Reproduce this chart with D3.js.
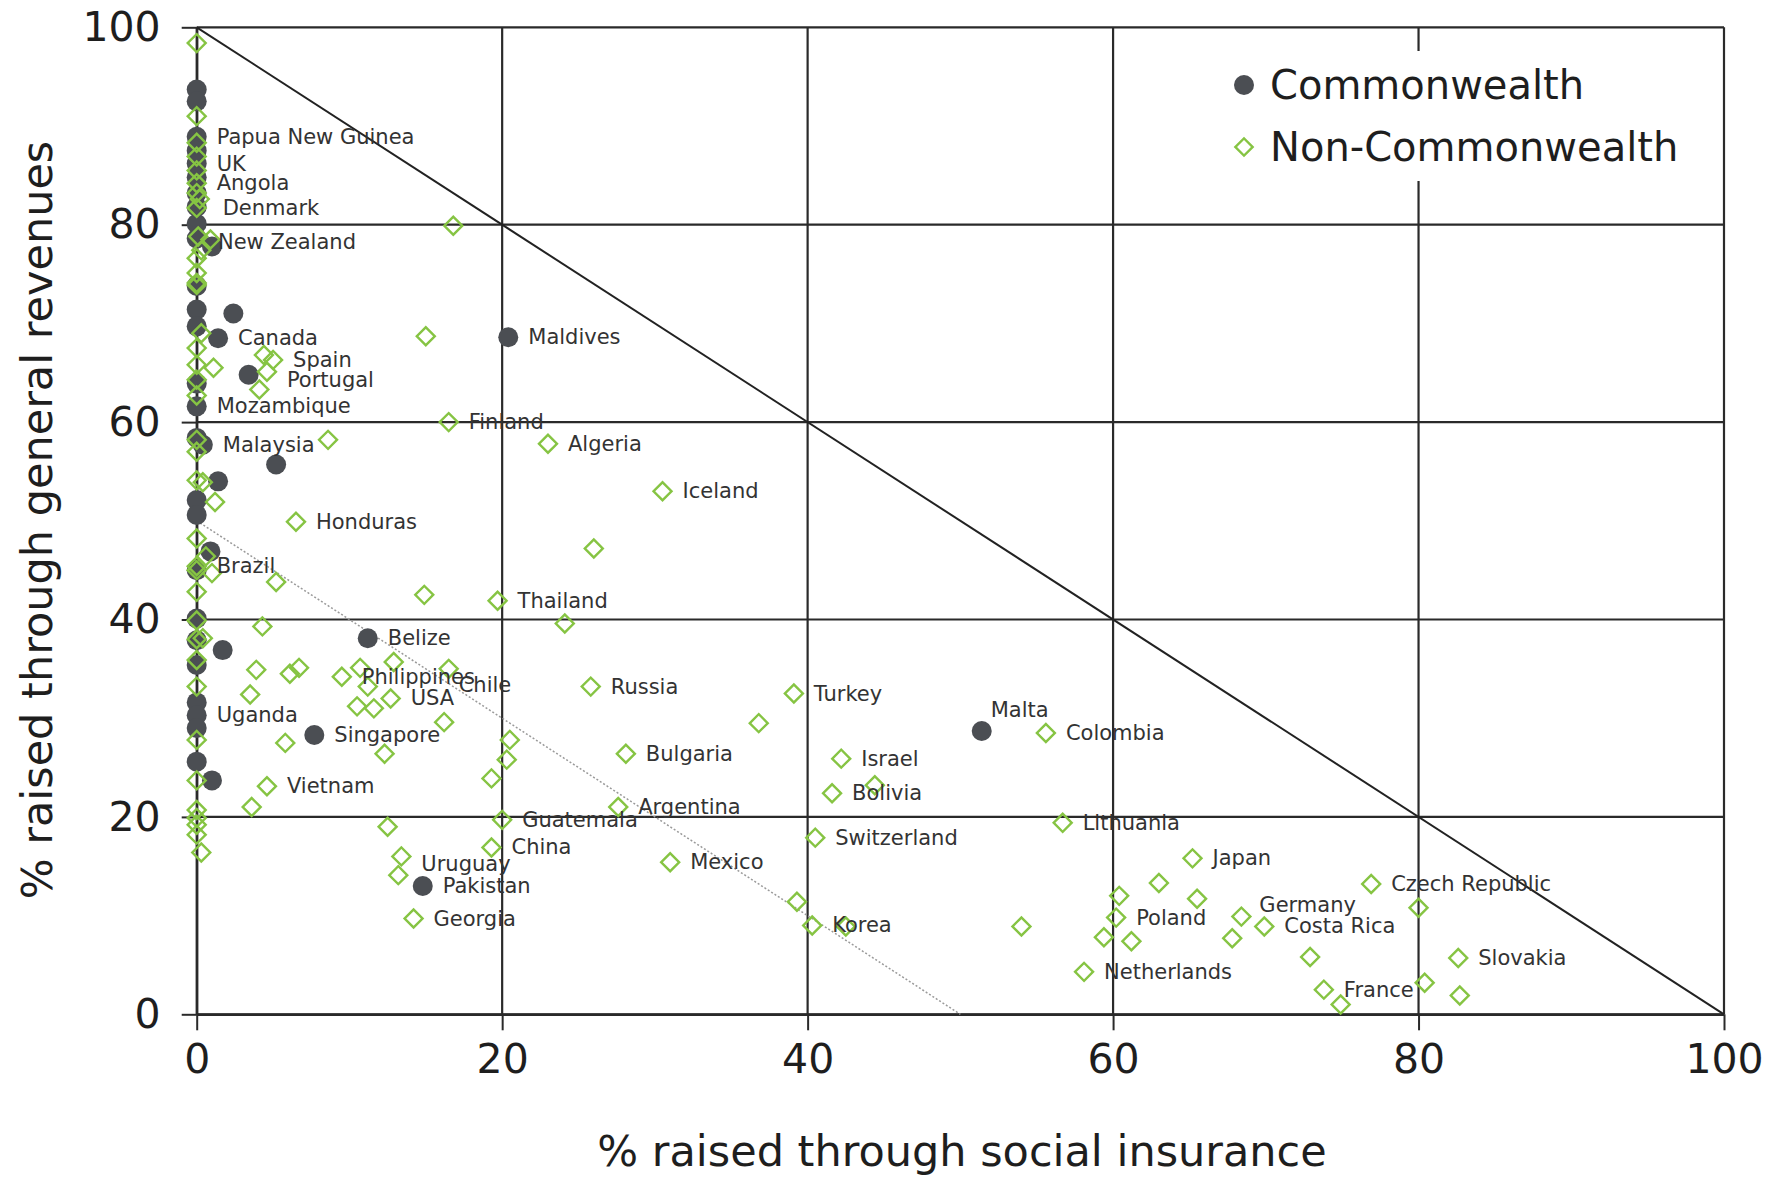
<!DOCTYPE html>
<html>
<head>
<meta charset="utf-8">
<script src="https://cdn.jsdelivr.net/npm/d3@7"></script>
<style>
  body { margin: 0; background: #fff; }
  svg { display: block; }
  text { font-family: "DejaVu Sans", Verdana, sans-serif; }
</style>
</head>
<body>
<svg id="chart" width="1773" height="1178"></svg>
<script>
// Axis ticks and titles
const xTicks = [0, 20, 40, 60, 80, 100];
const yTicks = [0, 20, 40, 60, 80, 100];
const xTitle = "% raised through social insurance";
const yTitle = "% raised through general revenues";
const seriesNames = ["Commonwealth", "Non-Commonwealth"];

// [country, % social insurance, % general revenues]
const commonwealth = [
  ["", 0, 93.7], ["", 0, 92.5], ["Papua New Guinea", 0, 88.9], ["", 0, 87.5],
  ["UK", 0, 86.2], ["", 0, 84.8], ["", 0, 83.2], ["", 0, 81.8], ["", 0, 80.1],
  ["", 0, 78.6], ["", 0, 73.8], ["", 0, 71.4], ["", 0, 69.7], ["", 0, 63.9],
  ["Mozambique", 0, 61.6], ["", 0, 58.4], ["", 0, 52.1], ["", 0, 50.6],
  ["", 0, 45.0], ["", 0, 40.1], ["", 0, 37.9], ["", 0, 35.4], ["", 0, 31.6],
  ["Uganda", 0, 30.3], ["", 0, 29.0], ["", 0, 25.6],
  ["New Zealand", 1.0, 77.8], ["", 2.4, 71.0], ["Canada", 1.4, 68.5],
  ["", 3.4, 64.8], ["Maldives", 20.4, 68.6], ["Malaysia", 0.4, 57.7],
  ["", 5.2, 55.7], ["", 1.4, 54.0], ["", 0.9, 46.9], ["Belize", 11.2, 38.1],
  ["", 1.7, 36.9], ["Singapore", 7.7, 28.3], ["", 1.0, 23.7],
  ["Pakistan", 14.8, 13.0], ["Malta", 51.4, 28.7]
];

const nonCommonwealth = [
  ["", 0, 98.4], ["", 0, 91.0], ["", 0, 88.3], ["", 0, 86.9], ["", 0, 85.5],
  ["Angola", 0, 84.2], ["", 0, 83.2], ["", 0.2, 82.6], ["Denmark", 0, 81.7],
  ["", 0.1, 78.8], ["", 0.9, 78.5], ["", 0.3, 77.4], ["", 0, 76.6], ["", 0, 75.1],
  ["", 0, 74.1], ["", 0, 73.9], ["", 0.3, 69.0], ["", 0, 67.5], ["", 0, 65.8],
  ["", 1.1, 65.5], ["", 0, 64.3], ["", 0, 62.7], ["", 0, 58.2], ["", 0, 57.0],
  ["", 0, 54.1], ["", 0.4, 53.9], ["", 1.2, 51.9], ["", 0, 48.2], ["", 0.6, 46.4],
  ["Brazil", 0, 45.4], ["", 0, 45.0], ["", 1.0, 44.7], ["", 0, 42.8], ["", 0, 39.9],
  ["", 0.4, 38.1], ["", 0, 38.0], ["", 0, 35.9], ["", 0, 33.2], ["", 0, 27.8],
  ["", 0, 23.7], ["", 0, 20.7], ["", 0, 19.9], ["", 0, 19.2], ["", 0, 18.2],
  ["", 0.3, 16.4],
  ["", 16.8, 79.9], ["", 15.0, 68.7], ["", 4.4, 66.8], ["Spain", 5.0, 66.3],
  ["Portugal", 4.6, 65.1], ["", 4.1, 63.3], ["Finland", 16.5, 60.0], ["", 8.6, 58.2],
  ["Algeria", 23.0, 57.8], ["Iceland", 30.5, 53.0], ["Honduras", 6.5, 49.9],
  ["", 26.0, 47.2], ["", 5.2, 43.8], ["", 14.9, 42.5], ["Thailand", 19.7, 41.9],
  ["", 24.1, 39.6], ["", 4.3, 39.3], ["", 3.9, 34.9], ["", 6.1, 34.5], ["", 6.7, 35.1],
  ["", 3.5, 32.4], ["Philippines", 9.5, 34.2], ["", 10.7, 35.1], ["", 11.2, 33.2],
  ["", 12.9, 35.7], ["", 10.5, 31.2], ["", 11.6, 31.0], ["USA", 12.7, 32.0],
  ["Chile", 16.5, 35.0], ["", 16.2, 29.6], ["", 5.8, 27.5], ["", 12.3, 26.4],
  ["Vietnam", 4.6, 23.1], ["", 3.6, 21.0], ["", 12.5, 19.0], ["Uruguay", 13.4, 16.0],
  ["", 13.2, 14.1], ["Georgia", 14.2, 9.7], ["Russia", 25.8, 33.2], ["", 20.5, 27.8],
  ["", 20.3, 25.8], ["", 19.3, 23.9], ["Guatemala", 20.0, 19.7], ["China", 19.3, 16.9],
  ["Bulgaria", 28.1, 26.4], ["Argentina", 27.6, 21.0], ["Mexico", 31.0, 15.4],
  ["Turkey", 39.1, 32.5], ["", 36.8, 29.5], ["Israel", 42.2, 25.9], ["", 44.4, 23.2],
  ["Bolivia", 41.6, 22.4], ["Switzerland", 40.5, 17.9], ["", 39.3, 11.4],
  ["Korea", 40.3, 9.0], ["", 42.5, 8.9], ["Colombia", 55.6, 28.5],
  ["Lithuania", 56.7, 19.4], ["", 54.0, 8.9], ["Netherlands", 58.1, 4.3],
  ["", 59.4, 7.8], ["Poland", 60.2, 9.8], ["", 60.4, 12.0], ["", 61.2, 7.4],
  ["", 63.0, 13.3], ["Japan", 65.2, 15.8], ["", 65.5, 11.7], ["", 67.8, 7.7],
  ["Germany", 68.4, 9.9], ["Costa Rica", 69.9, 8.9], ["", 72.9, 5.8],
  ["France", 73.8, 2.5], ["", 74.9, 1.0], ["Czech Republic", 76.9, 13.2],
  ["", 80.0, 10.8], ["", 80.4, 3.2], ["Slovakia", 82.6, 5.7], ["", 82.7, 1.9]
];

// Hand placement of a few labels (pixel nudges from the default spot)
const labelNudge = {
  "Malta": [-11, -21], "Germany": [-2, -12], "Chile": [-10, 16],
  "Denmark": [6, 0], "New Zealand": [-14, -4], "Portugal": [0, 8], "Uruguay": [0, 8]
};

const svg = d3.select("#chart");
const x = d3.scaleLinear().domain([0, 100]).range([196.7, 1724]);
const y = d3.scaleLinear().domain([0, 100]).range([1014.3, 27.3]);

const gridColor = "#2a2a2a";
const circleColor = "#4b4e53";
const green = "#86c443";

// Grid
const grid = svg.append("g").attr("stroke", gridColor).attr("stroke-width", 2.2);
grid.selectAll("line.v").data(xTicks).join("line")
  .attr("x1", d => x(d)).attr("x2", d => x(d))
  .attr("y1", y(100)).attr("y2", y(0));
grid.selectAll("line.h").data(yTicks).join("line")
  .attr("x1", x(0)).attr("x2", x(100))
  .attr("y1", d => y(d)).attr("y2", d => y(d));

// Axes (outward ticks + labels)
const xAxis = svg.append("g").attr("transform", `translate(0,${y(0)})`)
  .call(d3.axisBottom(x).tickValues(xTicks).tickSize(16).tickSizeOuter(0).tickPadding(14));
const yAxis = svg.append("g").attr("transform", `translate(${x(0)},0)`)
  .call(d3.axisLeft(y).tickValues(yTicks).tickSize(15).tickSizeOuter(0).tickPadding(21));
[xAxis, yAxis].forEach(a => {
  a.select(".domain").attr("stroke", gridColor).attr("stroke-width", 2.4);
  a.selectAll(".tick line").attr("stroke", gridColor).attr("stroke-width", 2);
  a.selectAll(".tick text").attr("font-size", 41).attr("fill", "#1e1e1e")
    .attr("font-family", "'DejaVu Sans', Verdana, sans-serif");
});

// Reference lines: total = 100% and total = 50%
svg.append("line")
  .attr("x1", x(0)).attr("y1", y(100)).attr("x2", x(100)).attr("y2", y(0))
  .attr("stroke", "#222").attr("stroke-width", 2);
svg.append("line")
  .attr("x1", x(0)).attr("y1", y(50)).attr("x2", x(50)).attr("y2", y(0))
  .attr("stroke", "#9a9a9a").attr("stroke-width", 1.5).attr("stroke-dasharray", "2,2");

// Legend
const legend = svg.append("g");
legend.append("rect").attr("x", 1226).attr("y", 51).attr("width", 490).attr("height", 130).attr("fill", "#fff");
legend.append("circle").attr("cx", 1244).attr("cy", 85).attr("r", 10).attr("fill", circleColor);
legend.append("path").attr("d", d3.symbol(d3.symbolSquare, 150)())
  .attr("transform", "translate(1244,147) rotate(45)")
  .attr("fill", "none").attr("stroke", green).attr("stroke-width", 2.4);
legend.selectAll("text").data(seriesNames).join("text")
  .attr("x", 1270).attr("y", (d, i) => i === 0 ? 85 : 147)
  .attr("dominant-baseline", "central")
  .attr("font-size", 40).attr("fill", "#1e1e1e").text(d => d);

// Markers
svg.append("g").selectAll("circle").data(commonwealth).join("circle")
  .attr("cx", d => x(d[1])).attr("cy", d => y(d[2])).attr("r", 10)
  .attr("fill", circleColor);
const diamond = d3.symbol(d3.symbolSquare, 162)();
svg.append("g").selectAll("path").data(nonCommonwealth).join("path")
  .attr("d", diamond)
  .attr("transform", d => `translate(${x(d[1])},${y(d[2])}) rotate(45)`)
  .attr("fill", "none").attr("stroke", green).attr("stroke-width", 2.4);

// Country labels
const labelled = commonwealth.concat(nonCommonwealth).filter(d => d[0]);
svg.append("g").selectAll("text").data(labelled).join("text")
  .attr("x", d => x(d[1]) + 20 + (labelNudge[d[0]] ? labelNudge[d[0]][0] : 0))
  .attr("y", d => y(d[2]) + (labelNudge[d[0]] ? labelNudge[d[0]][1] : 0))
  .attr("dominant-baseline", "central")
  .attr("font-size", 21).attr("fill", "#333")
  .text(d => d[0]);

// Axis titles
svg.append("text").attr("x", 962).attr("y", 1166).attr("text-anchor", "middle")
  .attr("font-size", 43).attr("fill", "#1e1e1e").text(xTitle);
svg.append("text").attr("transform", "translate(52,520) rotate(-90)").attr("text-anchor", "middle")
  .attr("font-size", 43).attr("fill", "#1e1e1e").text(yTitle);
</script>
</body>
</html>
